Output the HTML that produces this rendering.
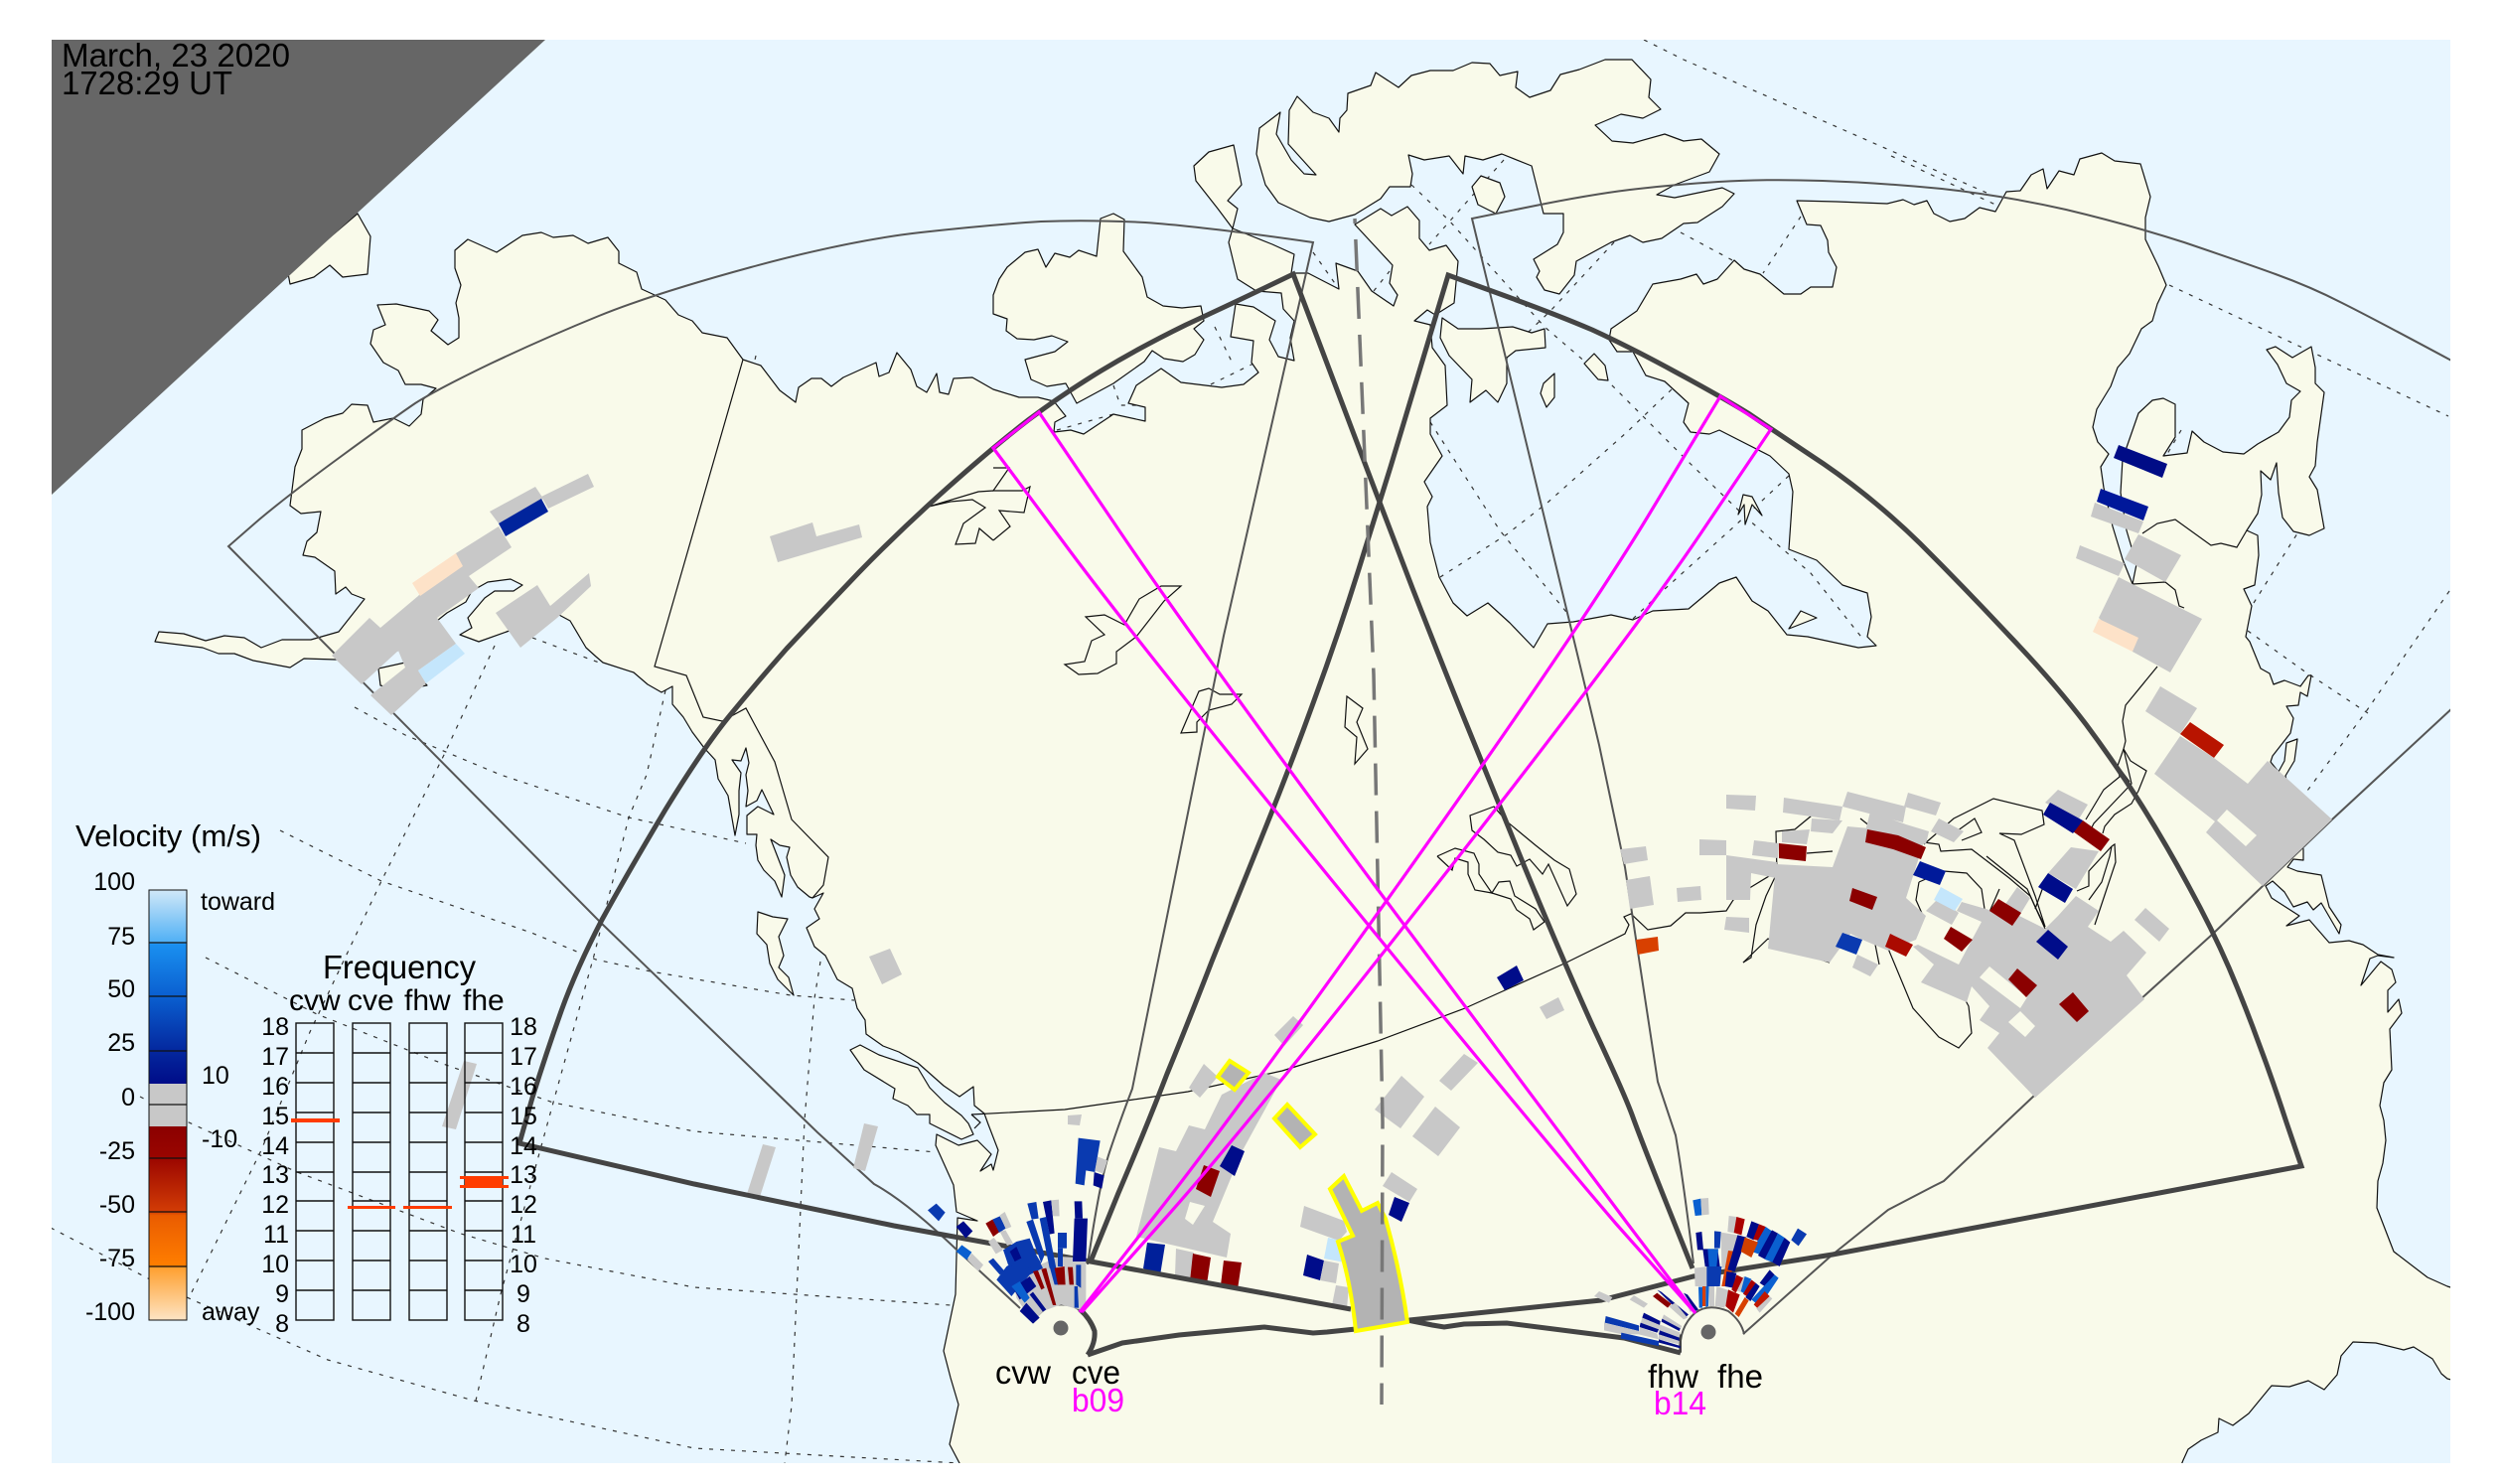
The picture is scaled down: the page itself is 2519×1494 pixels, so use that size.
<!DOCTYPE html>
<html><head><meta charset="utf-8"><style>
html,body{margin:0;padding:0;background:#fff}
svg{display:block}
text{font-family:"Liberation Sans",sans-serif;fill:#000}
.c{fill:#f9faea;stroke:#111;stroke-width:1.2;stroke-linejoin:round}
.b{fill:none;stroke:#111;stroke-width:1.2}
.d{fill:none;stroke:#333;stroke-width:1.2;stroke-dasharray:4 7}
.f{fill:none;stroke:#555;stroke-width:2}
.t{fill:none;stroke:#444;stroke-width:5;stroke-linejoin:miter}
.m{fill:none;stroke:#f0f;stroke-width:3.2}
.g{fill:#c8c8c8}.r{fill:#8b0000}.n{fill:#000c8a}.u{fill:#0a3ab0}.l{fill:#0a60d0}.o{fill:#d84000}.e{fill:#f9faea}
.y{fill:#b3b3b3;stroke:#ff0;stroke-width:4}
.k{font-size:25px}.fq{font-size:30px}
.bx{fill:none;stroke:#111;stroke-width:1.4}
</style></head><body>
<svg xmlns="http://www.w3.org/2000/svg" width="2519" height="1494" viewBox="0 0 2519 1494">
<defs>
<clipPath id="p"><rect x="52" y="40" width="2415" height="1433"/></clipPath>
<linearGradient id="bl" x1="0" y1="0" x2="0" y2="1"><stop offset="0" stop-color="#d0e8f8"/><stop offset=".27" stop-color="#50b0f5"/><stop offset=".28" stop-color="#1a90f0"/><stop offset=".55" stop-color="#0a5fd0"/><stop offset=".83" stop-color="#04289e"/><stop offset="1" stop-color="#000c88"/></linearGradient>
<linearGradient id="wa" x1="0" y1="0" x2="0" y2="1"><stop offset="0" stop-color="#8b0000"/><stop offset=".16" stop-color="#9a0500"/><stop offset=".44" stop-color="#d23c05"/><stop offset=".46" stop-color="#ea5c00"/><stop offset=".72" stop-color="#ff7e00"/><stop offset=".73" stop-color="#ffa030"/><stop offset="1" stop-color="#fde4c4"/></linearGradient>
</defs>
<rect width="2519" height="1494" fill="#fff"/>
<g clip-path="url(#p)">
<rect x="52" y="40" width="2415" height="1433" fill="#e8f6ff"/>
<!-- graticule -->
<polyline class="d" points="357,712 408,740 504,780 633,823 751,849"/>
<polyline class="d" points="282,836 384,887 535,939 600,966 655,978 796,1002 860,1007"/>
<polyline class="d" points="207,964 319,1021 446,1071 557,1110 699,1139 943,1160"/>
<polyline class="d" points="141,1104 188,1129 299,1180 464,1242 549,1267 699,1296 957,1314"/>
<polyline class="d" points="51,1236 149,1287 188,1306 330,1369 477,1410 699,1458 966,1473"/>
<polyline class="d" points="536,642 603,667"/>
<polyline class="d" points="498,650 447,760 384,887 312,1039 263,1158 192,1303"/>
<polyline class="d" points="670,695 651,780 633,823 598,962 557,1110 504,1303 479,1410"/>
<polyline class="d" points="826,968 820,1005 810,1128 797,1415 790,1473"/>
<polyline class="d" points="1514,161 1439,246"/>
<polyline class="d" points="1421,186 1459,222 1555,329 1619,384 1702,467 1759,522 1823,577 1877,645"/>
<polyline class="d" points="1440,425 1510,534 1581,621"/>
<polyline class="d" points="1625,244 1561,313 1478,392"/>
<polyline class="d" points="1683,392 1638,435 1558,506 1517,538 1450,581"/>
<polyline class="d" points="1801,479 1746,530 1676,593 1644,623"/>
<polyline class="d" points="1692,234 1746,263"/>
<polyline class="d" points="1813,218 1775,275"/>
<polyline class="d" points="1655,40 1695,60 2000,194"/>
<polyline class="d" points="1904,157 2009,206"/>
<polyline class="d" points="2184,287 2465,419"/>
<polyline class="d" points="2263,635 2319,675 2384,718"/>
<polyline class="d" points="2466,595 2381,718 2323,796"/>
<polyline class="d" points="2269,607 2313,537"/>
<polyline class="d" points="1322,254 1348,291"/>
<polyline class="d" points="1383,293 1399,273"/>
<polyline class="d" points="1223,329 1242,368"/>
<polyline class="d" points="1262,366 1217,388"/>
<polyline class="d" points="1064,433 1121,417"/>
<polyline class="d" points="1121,388 1128,408 1153,408"/>
<polyline class="d" points="2196,433 2182,457"/>
<polyline class="d" points="761,358 755,385"/>
<!-- land -->
<polygon class="c" points="471,241 500,254 526,237 545,234 557,239 577,237 592,245 612,239 623,253 623,265 641,274 646,291 670,302 683,317 697,323 707,335 732,340 748,362 766,368 785,393 801,405 804,390 817,381 827,381 837,389 849,380 882,365 885,379 895,375 903,355 917,372 923,389 933,395 943,376 946,395 955,397 960,381 979,380 1000,392 1026,400 1045,400 1061,404 1073,419 1062,425 1061,435 1078,433 1091,437 1121,417 1153,424 1153,410 1136,406 1144,388 1169,371 1189,385 1230,390 1252,387 1267,375 1260,365 1262,343 1239,339 1244,306 1262,309 1284,323 1278,342 1287,359 1303,363 1299,340 1303,323 1292,311 1290,295 1265,293 1246,281 1237,244 1241,230 1226,210 1204,182 1202,167 1217,153 1242,146 1250,186 1236,202 1246,210 1241,230 1281,246 1303,256 1300,275 1317,275 1348,291 1345,265 1367,273 1381,293 1403,308 1407,297 1399,285 1402,267 1364,226 1390,210 1401,217 1417,208 1429,222 1429,240 1439,252 1456,247 1468,263 1464,305 1445,317 1437,312 1424,323 1440,327 1442,350 1455,368 1457,408 1440,421 1440,437 1452,459 1434,485 1442,500 1437,510 1440,546 1449,581 1463,607 1477,620 1498,607 1520,627 1544,652 1558,628 1584,626 1622,619 1644,624 1664,615 1700,613 1731,587 1748,581 1764,605 1780,615 1799,639 1820,641 1871,652 1889,650 1880,641 1884,621 1880,597 1855,589 1829,564 1801,553 1805,495 1801,477 1782,459 1731,433 1721,437 1702,435 1695,425 1700,406 1676,384 1657,378 1644,354 1628,354 1620,342 1622,331 1648,313 1664,286 1692,281 1708,276 1715,286 1729,281 1746,262 1756,271 1772,276 1796,296 1813,296 1823,289 1845,289 1849,269 1841,254 1840,242 1833,227 1819,226 1809,202 1849,203 1900,205 1916,201 1927,206 1940,202 1947,215 1963,223 1978,220 1993,209 2009,213 2020,193 2034,192 2045,176 2057,170 2061,190 2073,172 2088,176 2094,160 2116,154 2129,162 2155,165 2165,198 2160,219 2160,241 2173,268 2181,287 2172,306 2167,323 2156,331 2144,356 2132,370 2125,389 2111,412 2107,430 2112,445 2123,457 2115,470 2118,491 2127,530 2137,563 2147,588 2151,568 2141,534 2135,496 2137,462 2153,416 2167,403 2178,401 2190,407 2190,440 2178,459 2202,456 2207,434 2219,445 2238,455 2259,457 2273,447 2294,435 2305,420 2307,403 2316,394 2302,386 2293,367 2282,352 2291,349 2308,360 2327,349 2331,370 2331,386 2340,395 2333,445 2331,469 2325,480 2333,493 2340,532 2325,539 2309,535 2298,521 2294,496 2292,466 2286,483 2276,474 2277,498 2273,517 2262,534 2273,539 2274,559 2270,589 2259,593 2267,610 2261,641 2265,646 2276,673 2285,678 2289,689 2300,685 2316,691 2324,680 2327,680 2323,701 2316,697 2314,710 2302,711 2309,723 2306,738 2288,761 2286,767 2294,777 2300,766 2302,748 2313,744 2310,766 2301,781 2308,812 2319,855 2319,866 2309,865 2303,873 2313,877 2337,881 2345,913 2357,931 2355,940 2337,909 2329,916 2323,908 2309,913 2300,898 2288,887 2281,892 2287,904 2315,922 2302,932 2325,926 2345,949 2365,947 2379,951 2394,961 2410,964 2394,962 2386,965 2377,992 2397,968 2408,976 2412,989 2404,997 2404,1019 2415,1006 2418,1020 2406,1036 2408,1077 2400,1090 2396,1113 2400,1128 2402,1148 2399,1171 2394,1189 2393,1216 2410,1260 2444,1286 2464,1295 2480,1300 2480,1392 2464,1388 2458,1383 2449,1368 2430,1356 2420,1359 2392,1352 2369,1351 2357,1365 2353,1384 2340,1399 2324,1390 2305,1396 2287,1395 2264,1423 2248,1435 2234,1428 2233,1442 2216,1450 2203,1459 2198,1470 2190,1490 960,1490 966,1473 956,1454 965,1414 957,1387 950,1360 962,1303 964,1226 984,1229 963,1220 960,1193 942,1153 943,1142 965,1153 984,1148 998,1162 987,1179 998,1172 1000,1178 1005,1158 995,1132 991,1121 981,1113 980,1094 966,1104 950,1093 924,1070 905,1059 889,1053 872,1041 871,1027 863,1015 858,995 843,986 831,962 820,953 812,934 825,925 820,915 829,899 818,904 815,903 803,893 796,881 792,863 795,853 785,851 776,845 790,881 787,903 780,887 769,876 763,866 761,851 762,840 752,840 752,821 763,812 779,820 767,795 762,806 751,812 753,796 751,780 754,768 751,753 746,766 737,765 746,778 744,796 744,820 740,841 733,801 723,784 720,765 709,753 697,737 688,722 677,709 677,691 666,697 652,689 638,677 607,667 600,661 590,652 574,625 561,618 510,636 482,646 463,639 475,632 471,622 488,602 498,595 517,595 526,589 514,583 491,586 475,595 469,606 450,617 415,645 385,665 338,664 306,663 292,672 255,665 236,658 220,658 204,652 156,646 160,636 185,638 207,645 226,640 246,642 263,652 284,644 313,644 341,636 367,603 354,598 348,591 338,598 337,575 317,561 305,559 309,545 319,536 323,515 303,517 292,509 297,470 304,452 304,433 327,421 345,416 354,407 370,408 376,425 396,421 412,429 424,417 426,402 439,391 424,387 408,387 401,373 386,365 373,346 376,332 388,327 380,307 399,306 432,313 441,322 434,333 451,347 462,340 462,320 459,305 464,287 458,270 458,252"/>
<polygon class="c" points="381,673 408,667 430,690 400,695 383,690"/>
<polygon class="c" points="360,215 373,238 370,276 345,279 332,267 316,279 292,286 290,275"/>
<polygon class="c" points="856,1057 866,1052 885,1062 924,1075 936,1095 951,1110 968,1123 975,1131 980,1142 968,1147 936,1131 936,1122 923,1122 914,1113 899,1106 901,1096 870,1077"/>
<polygon class="c" points="763,918 778,923 793,925 784,943 789,962 784,974 794,984 799,1002 783,986 775,970 772,951 762,940"/>
<polygon class="c" points="1032,254 1045,251 1053,269 1062,255 1077,259 1086,252 1104,258 1108,220 1121,215 1132,221 1131,253 1150,279 1155,299 1171,308 1190,310 1209,308 1212,323 1202,331 1212,342 1203,357 1191,364 1172,361 1160,353 1152,364 1121,386 1084,406 1073,386 1054,389 1038,382 1032,362 1062,354 1075,344 1059,338 1041,342 1024,341 1013,333 1014,321 1000,316 1000,297 1006,281 1014,269"/>
<polygon class="c" points="1306,97 1322,113 1338,119 1348,133 1349,119 1356,111 1357,94 1380,86 1385,73 1408,88 1421,76 1440,71 1463,71 1482,63 1500,64 1510,76 1528,72 1526,88 1540,98 1561,91 1571,75 1590,70 1616,60 1643,60 1662,80 1660,98 1672,110 1654,119 1632,115 1606,126 1623,142 1644,144 1676,135 1695,142 1713,140 1731,155 1721,173 1686,186 1668,196 1686,199 1734,189 1746,195 1734,208 1709,224 1695,225 1673,240 1654,244 1641,237 1622,244 1587,263 1585,277 1570,296 1555,292 1547,279 1550,273 1544,261 1568,246 1574,234 1574,215 1554,215 1542,167 1512,155 1493,161 1475,157 1473,175 1459,157 1434,161 1418,156 1422,175 1420,188 1399,188 1390,200 1364,216 1338,223 1319,219 1287,204 1274,186 1265,155 1268,129 1289,113 1285,135 1300,161 1313,175 1325,176 1297,145 1298,111"/>
<polygon class="c" points="1452,320 1450,340 1459,358 1482,382 1480,405 1496,393 1508,405 1517,386 1517,360 1526,353 1556,350 1555,331 1542,335 1523,329 1491,331 1468,331"/>
<polygon class="c" points="1491,177 1482,188 1488,206 1506,215 1515,198 1510,184"/>
<polygon class="c" points="1605,356 1595,366 1609,382 1619,383 1616,368"/>
<polygon class="c" points="1565,376 1554,386 1551,396 1557,410 1565,400"/>
<polygon class="c" points="1755,498 1764,500 1774,519 1764,508 1757,528 1756,508 1750,518"/>
<polygon class="c" points="1813,615 1829,622 1801,633"/>
<!-- inland lines -->
<polygon class="b" points="1072,669 1092,666 1099,645 1112,639 1093,621 1112,619 1132,629 1147,603 1169,590 1189,590 1172,605 1144,641 1124,656 1124,668 1105,678 1086,679"/>
<polyline class="b" points="1000,471 1016,471 1000,494 1029,494 1037,490 1031,516 1006,514 1017,530 1000,544"/>
<polyline class="b" points="1000,494 985,495 935,510 957,505 979,503 992,511 970,527 962,548 982,547 986,532 1000,544"/>
<polygon class="b" points="1356,701 1372,713 1366,727 1377,754 1364,769 1366,742 1354,732"/>
<polygon class="b" points="1207,696 1217,693 1228,699 1250,699 1240,709 1217,715 1205,727 1205,737 1189,738"/>
<polygon class="b" points="1504,812 1480,821 1482,836 1494,845 1508,858 1521,861 1527,872 1540,865 1553,880 1559,870 1578,912 1587,900 1580,875 1565,866 1546,851 1517,827"/>
<polyline class="b" points="1447,862 1465,854 1484,859 1489,870 1489,880 1502,899 1509,888 1520,887 1525,902 1546,915 1555,928 1544,936 1540,925 1527,916 1521,905 1502,899 1485,896 1478,880 1478,868 1465,864 1462,876 1447,862"/>
<polyline class="b" points="748,362 659,671 691,680 708,722 727,726 751,713 780,767 797,825 834,863 829,891 818,904"/>
<polyline class="b" points="978,1122 987,1130 981,1136"/>
<polyline class="b" points="978,1122 1072,1117 1141,1107 1196,1099 1291,1078 1387,1048 1475,1015 1575,970 1636,940 1640,931 1635,923 1642,920 1659,936 1682,932 1697,919 1712,919 1738,917 1745,906 1763,893 1786,879"/>
<polyline class="b" points="1755,969 1763,964 1768,931 1778,902 1789,879 1788,837 1807,835 1824,821"/>
<polyline class="b" points="1755,969 1780,945 1800,955 1842,969"/>
<polyline class="b" points="1819,859 1845,857"/>
<polyline class="b" points="1873,824 1883,832"/>
<polyline class="b" points="1937,848 1952,850 1954,857 1985,855 2023,884 2044,902 2059,935"/>
<polyline class="b" points="1937,850 1967,824 2007,804 2056,816 2058,830 2035,840 2013,839 2028,846 2049,902 2059,933"/>
<polyline class="b" points="1975,846 1995,838 1988,824 1967,839"/>
<polyline class="b" points="1932,888 1957,877 1980,879 1995,895 1998,915"/>
<polyline class="b" points="1932,888 1929,906 1937,924"/>
<polyline class="b" points="1901,955 1926,1015 1952,1044 1972,1055 1985,1040 1982,1013 1975,1000"/>
<polyline class="b" points="1888,951 1892,971"/>
<polyline class="b" points="2000,862 2041,895 2050,915 2059,933"/>
<polyline class="b" points="2013,895 2003,918"/>
<polyline class="b" points="2058,890 2049,915"/>
<polyline class="b" points="2172,671 2140,710 2137,726 2140,746 2138,754 2132,771 2144,787"/>
<polyline class="b" points="2138,754 2145,766 2161,776 2153,796 2146,809 2129,820 2119,832 2117,839"/>
<polyline class="b" points="2132,771 2134,782 2118,795 2100,825"/>
<polyline class="b" points="2138,754 2146,789 2108,829 2105,835"/>
<polyline class="b" points="2126,852 2129,850 2130,868 2119,901 2109,931"/>
<polyline class="b" points="2126,852 2124,862 2116,888 2103,906"/>
<polyline class="b" points="2126,852 2103,877 2103,892 2091,897"/>
<polyline class="b" points="2157,537 2172,527 2190,523 2226,549 2236,547 2252,551 2262,534"/>
<polyline class="b" points="2147,588 2180,586 2190,594 2194,610 2199,612"/>
<!-- thin fov -->
<path class="f" d="M1027 1317 L963 1258 Q913 1210 880 1192 L823 1140 L604 928 L230 550 L261 523 Q292 497 344 459 Q396 421 418 406 Q440 392 494 366 Q549 340 603 318 Q657 296 756 269 Q855 242 927 234 Q1000 226 1048 223 Q1096 221 1153 224 Q1211 228 1322 244 L1232 640 L1140 1096 Q1127 1130 1117 1160 Q1107 1190 1095 1273"/>
<path class="f" d="M1705 1272 Q1695 1190 1687 1143 Q1678 1116 1669 1089 Q1652 980 1636 873 Q1623 811 1610 750 L1593 679 L1482 220 L1541 208 Q1600 196 1641 191 Q1683 186 1730 183 Q1778 180 1835 182 Q1893 184 1955 190 Q2018 197 2080 211 Q2143 226 2199 244 Q2255 263 2291 276 Q2327 289 2358 305 Q2390 321 2470 364"/>
<polyline class="f" points="1755,1343 1845,1263 1901,1218 1947,1194 1957,1189 2048,1103 2228,940 2348,825 2470,712"/>
<!-- night -->
<polygon points="52,40 549,40 52,498" fill="#666"/>
<!-- radar -->
<g>
<polygon class="g" points="1780,955 1788,870 1845,873 1860,832 1939,839 1934,857 1919,904 1939,922 1929,946 1901,957 1875,946 1863,940 1842,969"/>
<polygon class="g" points="1738,861 1789,868 1788,884 1763,879 1762,906 1738,906"/>
<polygon class="g" points="1766,846 1791,849 1790,864 1764,861"/>
<polygon class="g" points="1794,837 1822,835 1819,850 1794,848"/>
<polygon class="g" points="1796,803 1855,812 1852,826 1795,818"/>
<polygon class="g" points="1824,824 1855,826 1845,839 1823,837"/>
<polygon class="g" points="1860,797 1919,812 1916,828 1855,812"/>
<polygon class="g" points="1921,798 1954,808 1949,821 1917,812"/>
<polygon class="g" points="1883,817 1919,830 1942,837 1939,850 1878,837"/>
<polygon class="g" points="1952,824 1977,837 1967,848 1944,837"/>
<polygon class="g" points="1738,800 1768,801 1767,816 1738,814"/>
<polygon class="g" points="1711,845 1738,846 1738,861 1711,861"/>
<polygon class="g" points="1631,855 1657,852 1659,866 1635,870"/>
<polygon class="g" points="1637,886 1661,882 1665,911 1641,915"/>
<polygon class="g" points="1688,894 1712,892 1713,906 1689,908"/>
<polygon class="g" points="1738,923 1761,924 1761,939 1736,936"/>
<polygon class="g" points="1870,961 1891,971 1883,983 1865,974"/>
<polygon class="g" points="1952,904 1972,919 1965,931 1939,917"/>
<polygon class="g" points="1975,908 2013,919 2031,893 2044,904 2033,922 2059,935 2072,922 2090,902 2113,917 2102,933 2125,948 2138,937 2161,959 2141,982 2159,1006 2049,1105 2001,1055 2013,1040 1993,1027 2003,1013 1985,993 1990,977 1980,1009 1934,989 1947,971 1926,953 1931,951 1972,971 1995,928 1970,917"/>
<polygon class="e" points="2003,973 2041,1004 2034,1015 1993,984"/>
<polygon class="e" points="2034,1018 2049,1033 2039,1044 2022,1029"/>
<polygon class="g" points="2160,914 2184,935 2174,948 2149,926"/>
<polygon class="g" points="2072,795 2102,810 2092,826 2059,808"/>
<polygon class="g" points="2085,853 2113,857 2090,895 2062,879"/>
<polygon class="r" points="1791,849 1819,852 1818,867 1791,864"/>
<polygon class="r" points="1880,835 1911,841 1939,853 1934,865 1906,855 1878,848"/>
<polygon class="r" points="1865,894 1890,903 1885,916 1862,907"/>
<polygon fill="#aa0a00" points="1903,940 1926,951 1919,963 1898,953"/>
<polygon class="r" points="1964,933 1986,946 1975,958 1957,945"/>
<polygon class="r" points="2012,905 2035,919 2026,932 2003,917"/>
<polygon class="r" points="2031,975 2051,992 2040,1004 2022,986"/>
<polygon class="r" points="2087,999 2103,1018 2091,1029 2073,1011"/>
<polygon class="r" points="2097,826 2124,845 2115,857 2087,837"/>
<polygon fill="#001a9a" points="1933,867 1959,877 1953,891 1926,881"/>
<polygon class="u" points="1855,939 1875,946 1869,961 1848,953"/>
<polygon class="n" points="2064,808 2097,826 2087,839 2057,820"/>
<polygon class="n" points="2062,879 2087,895 2079,909 2052,893"/>
<polygon class="n" points="2062,936 2082,953 2072,966 2050,948"/>
<polygon fill="#c4e6fc" points="1954,893 1976,905 1968,917 1947,906"/>
<polygon class="o" points="1647,946 1669,943 1670,957 1649,961"/>
<polygon class="n" points="1507,984 1527,972 1534,987 1515,997"/>
<polygon class="g" points="1550,1014 1569,1004 1575,1017 1557,1026"/>
<polygon class="g" points="2175,691 2212,713 2195,739 2160,716"/>
<polygon fill="#b81400" points="2205,727 2239,750 2229,763 2195,739"/>
<polygon class="g" points="2195,741 2229,763 2263,789 2283,766 2348,825 2278,892 2221,838 2230,827 2169,779"/>
<polygon class="e" points="2242,815 2272,841 2261,852 2232,826"/>
<polygon fill="#000c86" points="2133,448 2182,467 2177,481 2128,461"/>
<polygon fill="#00189a" points="2115,492 2163,510 2158,524 2111,505"/>
<polygon class="g" points="2109,506 2158,525 2153,537 2105,520"/>
<polygon class="g" points="2094,549 2139,567 2133,580 2090,562"/>
<polygon class="g" points="2153,538 2196,559 2180,586 2139,563"/>
<polygon class="g" points="2133,581 2217,623 2185,677 2147,656 2113,622"/>
<polygon fill="#fde2c8" points="2113,623 2153,642 2147,656 2107,636"/>
<polygon class="g" points="493,515 539,490 547,502 502,527"/>
<polygon fill="#00249c" points="502,527 545,502 552,515 509,540"/>
<polygon class="g" points="545,500 592,477 598,490 552,512"/>
<polygon class="g" points="502,530 515,551 472,580 482,592 440,622 459,648 421,675 429,688 394,720 373,700 408,672 401,655 364,689 334,660 372,622 383,632 421,600 459,557"/>
<polygon fill="#c4e6fc" points="459,648 468,658 429,688 421,675"/>
<polygon fill="#fde2c8" points="459,557 466,570 423,600 415,587"/>
<polygon class="g" points="541,589 554,610 593,577 595,590 561,622 524,652 499,617"/>
<polygon class="g" points="775,540 818,526 822,540 865,528 868,541 783,566"/>
<polygon class="g" points="875,963 896,955 908,981 888,991"/>
<polygon class="g" points="768,1152 781,1155 765,1205 752,1202"/>
<polygon class="g" points="870,1131 884,1134 871,1179 859,1176"/>
<polygon class="g" points="1075,1123 1089,1122 1087,1133 1075,1132"/>
<polygon class="g" points="467,1068 480,1071 459,1137 445,1134"/>
<polygon class="g" points="1302,1023 1312,1032 1293,1053 1283,1042"/>
<polygon class="g" points="1212,1071 1226,1084 1208,1105 1197,1095"/>
<polygon class="g" points="1273,1080 1290,1087 1250,1160 1221,1230 1239,1242 1235,1266 1144,1245 1167,1155 1184,1159 1197,1133 1213,1137 1230,1102"/>
<polygon class="e" points="1198,1210 1213,1214 1201,1233 1193,1227"/>
<polygon fill="#00209a" points="1155,1251 1173,1253 1168,1284 1151,1277"/>
<polygon class="g" points="1184,1257 1202,1261 1198,1290 1183,1284"/>
<polygon class="r" points="1201,1262 1219,1266 1215,1293 1198,1290"/>
<polygon class="r" points="1232,1269 1250,1271 1246,1298 1229,1294"/>
<polygon class="n" points="1240,1153 1253,1159 1243,1184 1228,1174"/>
<polygon class="r" points="1212,1173 1228,1179 1219,1205 1204,1197"/>
<polygon class="g" points="1411,1083 1434,1104 1410,1136 1384,1117"/>
<polygon class="g" points="1445,1114 1470,1135 1448,1164 1422,1144"/>
<polygon class="g" points="1474,1061 1488,1070 1461,1098 1449,1088"/>
<polygon class="g" points="1401,1180 1427,1197 1419,1210 1392,1194"/>
<polygon class="n" points="1404,1205 1419,1211 1411,1230 1398,1223"/>
<polygon class="g" points="1313,1214 1353,1229 1356,1240 1348,1249 1309,1235"/>
<polygon fill="#c4e6fc" points="1337,1246 1351,1249 1359,1272 1333,1267"/>
<polygon class="n" points="1316,1263 1333,1269 1329,1289 1312,1284"/>
<polygon class="g" points="1333,1269 1348,1272 1345,1292 1329,1289"/>
<polygon class="g" points="1345,1294 1358,1296 1356,1317 1341,1314"/>
</g>
<!-- thick fov -->
<path class="t" d="M1360 1318 L1098 1270 L900 1234 L699 1192 L523 1151 L536 1105 Q550 1060 565 1018 Q580 976 606 926 Q633 877 670 815 Q708 753 735 720 Q762 687 792 653 Q823 620 865 576 Q908 532 954 491 Q1000 450 1035 423 Q1071 396 1109 373 Q1147 350 1194 327 Q1242 305 1302 276 L1380 482 Q1389 506 1422 592 Q1456 679 1476 728 Q1496 777 1535 873 Q1575 970 1604 1034 Q1634 1098 1643 1122 Q1652 1147 1678 1212 L1704 1277"/>
<path class="t" d="M1098 1270 L1126 1201 Q1155 1133 1175 1081 Q1196 1030 1220 968 Q1245 906 1271 841 Q1297 777 1322 708 Q1347 640 1368 573 Q1389 506 1400 470 L1458 277 L1513 297 Q1568 317 1603 332 Q1638 348 1686 374 Q1734 400 1760 416 Q1785 433 1836 467 Q1887 502 1933 547 Q1979 593 2023 640 Q2068 687 2100 729 Q2132 772 2157 812 Q2182 852 2204 893 Q2227 935 2244 974 Q2261 1014 2274 1050 Q2288 1087 2302 1130 L2317 1174 L1845 1263 L1705 1285 L1612 1309 L1419 1329"/>
<polyline class="t" points="1095,1364 1130,1352 1187,1344 1273,1336 1322,1342 1336,1341 1365,1338"/>
<polyline class="t" points="1417,1329 1442,1334 1454,1336 1474,1333 1517,1332 1635,1347 1692,1362"/>
<path class="t" d="M1087 1318 Q1098 1328 1102 1340 Q1103 1352 1095 1364"/>
<!-- fan cvw -->
<g transform="translate(880 1130) scale(.33333)">
<path d="M480 605 Q510 550 565 550 Q600 550 622 568" fill="none" stroke="#555" stroke-width="6"/>
<polygon class="g" points="480,605 430,530 420,480 500,430 560,405 640,410 640,570 620,565 565,550 510,570"/>
<polygon class="u" points="370,475 400,435 440,410 490,400 510,440 470,460 415,525"/>
<polygon class="u" points="390,385 430,360 470,350 490,400 505,425 450,445 405,430"/>
<polygon class="n" points="410,390 430,375 445,410 425,420"/>
<polygon class="n" points="420,500 470,465 490,495 440,535"/>
<polygon class="l" points="415,495 440,480 470,530 455,545"/>
<polygon class="n" points="440,570 460,545 500,590 480,608"/>
<polygon class="n" points="470,520 480,512 520,565 510,572"/>
<polygon class="u" points="460,300 480,293 515,400 505,425"/>
<polygon class="u" points="463,245 490,240 497,290 476,293"/>
<polygon class="n" points="510,240 535,235 545,335 530,338"/>
<polygon class="u" points="500,290 520,285 550,440 530,440"/>
<polygon class="n" points="605,238 628,238 630,290 607,290"/>
<polygon class="n" points="605,290 645,290 640,420 600,420"/>
<polygon class="u" points="555,333 582,333 582,380 555,380"/>
<polygon class="u" points="555,380 570,380 570,435 555,435"/>
<polygon class="u" points="610,430 625,430 625,500 610,490"/>
<polygon class="u" points="605,495 615,495 618,560 605,560"/>
<polygon class="u" points="530,435 548,432 558,490 545,490"/>
<polygon class="g" points="535,235 558,233 560,283 540,283"/>
<polygon class="r" points="545,440 575,435 578,490 555,490"/>
<polygon class="r" points="585,437 600,437 603,490 590,490"/>
<polygon class="r" points="480,450 495,447 515,500 505,505"/>
<polygon class="r" points="505,443 520,440 550,552 540,552"/>
<polygon class="u" points="617,47 683,55 667,150 640,145 635,190 608,185"/>
<polygon class="g" points="675,103 705,115 692,155 667,145"/>
<polygon class="n" points="665,150 695,160 688,200 662,190"/>
<polygon class="u" points="188,245 215,272 195,298 162,265"/>
<polygon class="n" points="270,298 298,328 277,350 248,315"/>
<polygon class="l" points="265,370 295,392 280,415 248,390"/>
<polygon class="g" points="295,395 330,430 315,450 282,415"/>
<polygon class="r" points="358,293 380,330 360,345 337,305"/>
<polygon class="u" points="358,293 380,283 398,320 378,333"/>
<polygon class="g" points="380,280 395,270 415,315 398,322"/>
<polygon class="g" points="380,330 397,325 420,365 402,372"/>
<polygon class="g" points="362,348 390,385 368,397 345,360"/>
<polygon class="u" points="360,410 395,450 380,460 345,420"/>
</g>
<!-- fan fh -->
<g transform="translate(1600 1180) scale(.33333)">
<path d="M275 545 Q270 470 320 425 Q360 395 420 420 Q460 450 468 490" fill="none" stroke="#555" stroke-width="6"/>
<polyline points="275,490 275,545" fill="none" stroke="#444" stroke-width="8"/>
<polygon class="l" points="313,85 337,80 340,130 320,132"/>
<polygon class="g" points="337,80 360,78 362,128 340,130"/>
<polygon class="n" points="322,183 340,180 345,235 327,235"/>
<polygon class="g" points="318,290 357,285 358,345 320,345"/>
<polygon class="n" points="343,232 388,232 395,285 350,285"/>
<polygon class="l" points="358,232 390,232 385,285 362,285"/>
<polygon class="u" points="378,178 398,180 395,230 378,230"/>
<polygon class="g" points="398,182 460,192 445,290 400,290"/>
<polygon class="u" points="355,285 400,285 395,345 355,345"/>
<polygon class="l" points="330,347 342,347 342,410 332,410"/>
<polygon class="o" points="342,345 352,345 352,405 342,405"/>
<polygon class="l" points="352,345 362,345 360,405 352,408"/>
<polygon class="g" points="362,345 378,345 378,405 362,405"/>
<polygon class="g" points="385,345 430,360 408,410 380,405"/>
<polygon class="o" points="420,237 445,240 420,345 400,345"/>
<polygon class="n" points="448,190 475,197 440,300 418,295"/>
<polygon class="g" points="422,132 445,135 440,185 418,180"/>
<polygon fill="#aa0000" points="445,135 470,142 460,190 437,183"/>
<polygon class="n" points="490,148 513,157 497,205 475,195"/>
<polygon fill="#aa0000" points="513,157 533,165 515,208 495,203"/>
<polygon class="l" points="533,165 552,178 520,250 490,240"/>
<polygon class="n" points="552,175 570,185 535,265 510,252"/>
<polygon class="l" points="570,185 590,198 560,275 530,263"/>
<polygon class="n" points="590,198 607,212 575,285 553,272"/>
<polygon fill="#d04000" points="470,197 510,212 490,258 458,240"/>
<polygon class="u" points="630,170 657,187 632,223 610,205"/>
<polygon class="n" points="415,300 445,305 435,350 410,345"/>
<polygon class="g" points="445,330 468,315 487,325 465,365 445,358"/>
<polygon fill="#aa0000" points="445,310 465,320 443,365 430,355"/>
<polygon class="l" points="470,315 490,323 470,368 458,360"/>
<polygon fill="#aa0000" points="490,325 503,335 480,378 465,368"/>
<polygon class="n" points="503,335 515,345 487,390 472,378"/>
<polygon class="n" points="545,295 560,310 530,345 515,335"/>
<polygon class="l" points="560,310 572,320 515,405 490,385"/>
<polygon fill="#c01800" points="530,360 545,375 510,413 497,400"/>
<polygon class="g" points="545,375 553,382 515,425 505,412"/>
<polygon fill="#aa0000" points="420,355 455,370 435,425 412,405"/>
<polygon class="o" points="470,378 482,388 452,438 440,428"/>
<polygon class="n" points="205,355 218,362 300,430 290,440"/>
<polygon class="r" points="192,375 205,365 248,398 237,410"/>
<polygon class="g" points="240,405 260,395 297,440 285,445"/>
<polygon class="g" points="280,368 290,385 315,415 305,423"/>
<polygon class="n" points="285,365 297,370 330,415 320,420"/>
<polygon class="g" points="30,360 70,378 60,395 15,375"/>
<polygon class="g" points="135,372 177,398 165,410 122,385"/>
<polygon class="u" points="50,435 150,463 150,480 47,455"/>
<polygon class="g" points="45,455 150,480 152,490 100,490 45,478"/>
<polygon class="u" points="97,485 210,510 210,525 95,503"/>
<polygon class="n" points="165,425 215,450 213,462 160,440"/>
<polygon class="g" points="160,440 213,462 208,485 152,468"/>
<polygon class="n" points="155,455 210,475 205,485 152,468"/>
<polygon class="g" points="152,468 205,488 210,505 150,490"/>
<polygon class="g" points="225,430 280,465 272,480 218,450"/>
<polygon class="n" points="220,443 275,472 272,480 218,452"/>
<polygon class="g" points="213,460 275,485 272,500 210,480"/>
<polygon class="n" points="213,478 272,500 272,510 210,490"/>
<polygon class="g" points="210,490 272,510 272,520 210,505"/>
<polygon class="n" points="210,505 275,525 275,532 210,515"/>
</g>
<circle cx="1068" cy="1337" r="7.5" fill="#666"/>
<circle cx="1720" cy="1341" r="7.5" fill="#666"/>
<!-- yellow -->
<polygon class="y" points="1238,1068 1257,1080 1243,1097 1226,1084"/>
<polygon class="y" points="1296,1112 1324,1142 1309,1155 1283,1126"/>
<path class="y" d="M1353 1184 L1371 1219 L1387 1211 L1395 1227 Q1410 1280 1417 1331 L1365 1340 Q1360 1290 1347 1250 L1362 1244 L1339 1197 Z"/>
<!-- dashed centre -->
<polyline points="1364,220 1383,679 1392,1130 1391,1414" fill="none" stroke="#777" stroke-width="3.5" stroke-dasharray="32 16" stroke-dashoffset="27"/>
<!-- magenta -->
<path class="m" d="M1087 1321 L1158 1230 Q1230 1140 1408 890 Q1586 640 1659 520 L1732 399 L1783 432 L1713 536 Q1643 640 1447 890 Q1251 1140 1170 1230 L1089 1321"/>
<path class="m" d="M1707 1322 L1627 1232 Q1548 1140 1344 890 Q1140 640 1070 545 L1000 451 L1046 415 L1122 527 Q1198 640 1383 890 Q1569 1140 1638 1231 L1707 1322"/>
</g>
<!-- text -->
<text x="62" y="67" font-size="33" textLength="230" lengthAdjust="spacingAndGlyphs">March, 23 2020</text>
<text x="62" y="95" font-size="33" textLength="172" lengthAdjust="spacingAndGlyphs">1728:29 UT</text>
<text x="1002" y="1393" font-size="33" textLength="56" lengthAdjust="spacingAndGlyphs">cvw</text>
<text x="1079" y="1393" font-size="33" textLength="49" lengthAdjust="spacingAndGlyphs">cve</text>
<text x="1079" y="1421" font-size="33" textLength="53" lengthAdjust="spacingAndGlyphs" style="fill:#f0f">b09</text>
<text x="1659" y="1397" font-size="33" textLength="51" lengthAdjust="spacingAndGlyphs">fhw</text>
<text x="1729" y="1397" font-size="33" textLength="46" lengthAdjust="spacingAndGlyphs">fhe</text>
<text x="1665" y="1424" font-size="33" textLength="53" lengthAdjust="spacingAndGlyphs" style="fill:#f0f">b14</text>
<!-- colour bar -->
<text x="76" y="852" font-size="31" textLength="187" lengthAdjust="spacingAndGlyphs">Velocity (m/s)</text>
<rect x="150" y="896" width="38" height="195" fill="url(#bl)"/>
<rect x="150" y="1091" width="38" height="43" fill="#c8c8c8"/>
<rect x="150" y="1134" width="38" height="195" fill="url(#wa)"/>
<g stroke="#111" stroke-width="1.2"><line x1="150" x2="188" y1="949" y2="949"/><line x1="150" x2="188" y1="1003" y2="1003"/><line x1="150" x2="188" y1="1058" y2="1058"/><line x1="150" x2="188" y1="1112" y2="1112"/><line x1="150" x2="188" y1="1166" y2="1166"/><line x1="150" x2="188" y1="1220" y2="1220"/><line x1="150" x2="188" y1="1275" y2="1275"/></g>
<rect x="150" y="896" width="38" height="433" fill="none" stroke="#111" stroke-width="1"/>
<g class="k" text-anchor="end">
<text x="136" y="896">100</text><text x="136" y="951">75</text><text x="136" y="1004">50</text><text x="136" y="1058">25</text><text x="136" y="1113">0</text><text x="136" y="1167">-25</text><text x="136" y="1221">-50</text><text x="136" y="1275">-75</text><text x="136" y="1329">-100</text>
</g>
<g class="k">
<text x="202" y="916">toward</text><text x="203" y="1091">10</text><text x="203" y="1155">-10</text><text x="203" y="1329">away</text>
</g>
<!-- frequency -->
<text x="325" y="985" font-size="33" textLength="154" lengthAdjust="spacingAndGlyphs">Frequency</text>
<g class="fq">
<text x="291" y="1017">cvw</text><text x="350" y="1017">cve</text><text x="407" y="1017">fhw</text><text x="466" y="1017">fhe</text>
</g>
<g class="bx">
<rect x="298" y="1030" width="38" height="299"/><rect x="355" y="1030" width="38" height="299"/><rect x="412" y="1030" width="38" height="299"/><rect x="468" y="1030" width="38" height="299"/>
<path d="M298 1060H336M298 1090H336M298 1120H336M298 1150H336M298 1180H336M298 1209H336M298 1239H336M298 1269H336M298 1299H336 M355 1060H393M355 1090H393M355 1120H393M355 1150H393M355 1180H393M355 1209H393M355 1239H393M355 1269H393M355 1299H393 M412 1060H450M412 1090H450M412 1120H450M412 1150H450M412 1180H450M412 1209H450M412 1239H450M412 1269H450M412 1299H450 M468 1060H506M468 1090H506M468 1120H506M468 1150H506M468 1180H506M468 1209H506M468 1239H506M468 1269H506M468 1299H506"/>
</g>
<g class="k" text-anchor="end">
<text x="291" y="1042">18</text><text x="291" y="1072">17</text><text x="291" y="1102">16</text><text x="291" y="1132">15</text><text x="291" y="1162">14</text><text x="291" y="1191">13</text><text x="291" y="1221">12</text><text x="291" y="1251">11</text><text x="291" y="1281">10</text><text x="291" y="1311">9</text><text x="291" y="1341">8</text>
</g>
<g class="k" text-anchor="middle">
<text x="527" y="1042">18</text><text x="527" y="1072">17</text><text x="527" y="1102">16</text><text x="527" y="1132">15</text><text x="527" y="1162">14</text><text x="527" y="1191">13</text><text x="527" y="1221">12</text><text x="527" y="1251">11</text><text x="527" y="1281">10</text><text x="527" y="1311">9</text><text x="527" y="1341">8</text>
</g>
<g fill="#ff3c00">
<rect x="293" y="1126" width="49" height="4"/>
<rect x="350" y="1214" width="48" height="3"/>
<rect x="406" y="1214" width="49" height="3"/>
<rect x="463" y="1184" width="49" height="3"/>
<rect x="463" y="1193" width="49" height="3"/>
<rect x="468" y="1185" width="38" height="10"/>
</g>
</svg>
</body></html>
